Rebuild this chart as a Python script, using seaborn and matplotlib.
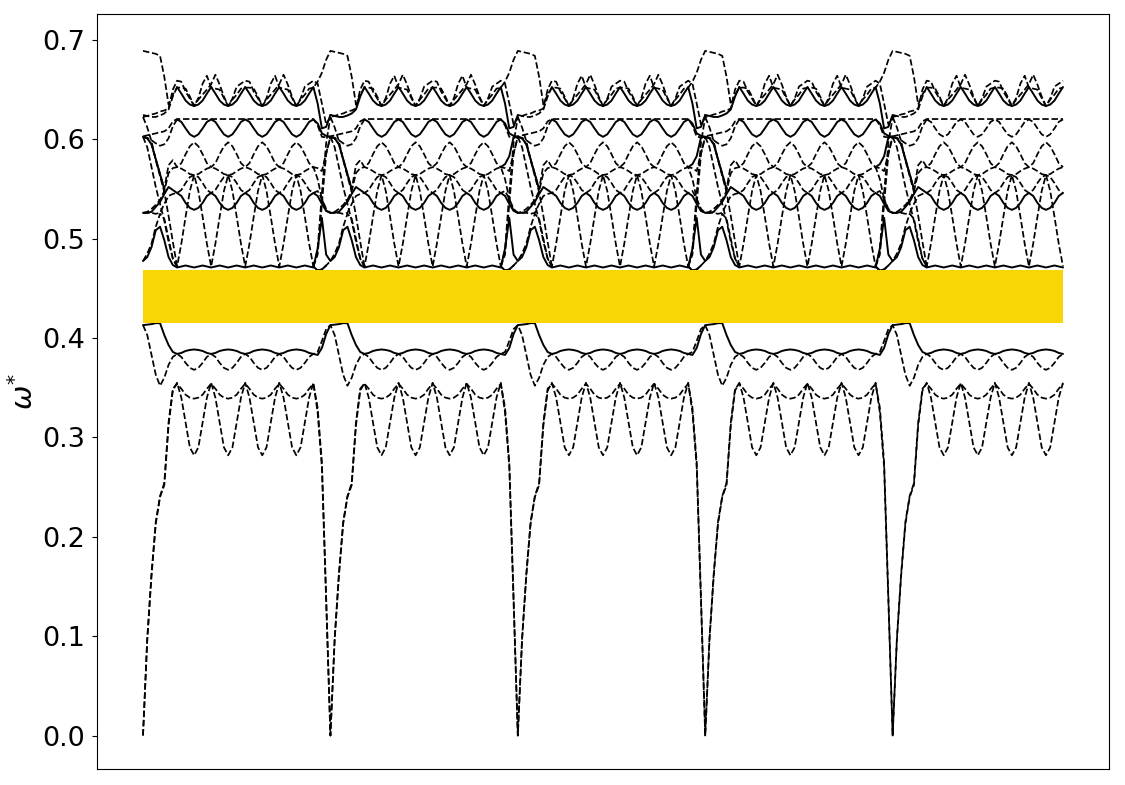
import numpy as np
import pandas as pd
import matplotlib
matplotlib.use('Agg')
import matplotlib.pyplot as plt
import seaborn as sns

acou_a_lead = [0, .096, .161, .213, .24, .252, .312, .347]
acou_a_cell = [.355, .34, .315, .29, .282, .29, .315, .34]
acou_a_tail = [.325, .27, .135]
acou_b_lead = [0, .098, .163, .215, .241, .254, .315, .349]
acou_b_cell = [.354, .349, .343, .34, .339, .34, .343, .349]
acou_b_tail = [.33, .275, .14]

low_s_lead = [.413, .4135, .414, .415, .415, .403, .393, .386]
low_s_cell = [.384, .385, .387, .388, .3885, .388, .387, .385]
low_s_tail = [.383, .39, .404]
low_d_lead = [.413, .403, .383, .363, .352, .36, .373, .381]
low_d_cell = [.384, .381, .375, .37, .368, .37, .375, .381]
low_d_tail = [.386, .397, .409]

wavy_lead = [.4775, .4815, .4915, .5085, .512, .4985, .4815, .4735]
wavy_cell = [.471, .472, .473, .472, .471, .472, .473, .472]
wavy_tail = [.49, .521, .484]
spike_a_lead = [.4775, .485, .495, .512, .525, .52, .5, .48]
spike_a_cell = [.472, .495, .522, .548, .564, .548, .522, .495]
spike_a_tail = [.468, .469, .473]
spike_b_lead = [.6225, .612, .598, .579, .563, .547, .523, .497]
spike_b_cell = [.472, .494, .52, .546, .563, .55, .524, .497]
spike_b_tail = [.489, .546, .596]
spike_c_lead = [.6025, .592, .572, .552, .535, .518, .497, .48]
spike_c_cell = [.472, .49, .518, .545, .56, .552, .526, .5]
spike_c_tail = [.484, .535, .585]

mid_h_lead = [.526, .526, .527, .532, .537, .545, .552, .549]
mid_h_cell = [.546, .543, .536, .531, .529, .531, .536, .543]
mid_h_tail = [.543, .535, .528]
mid_g_lead = [.526, .526, .526, .525, .526, .535, .543, .545]
mid_g_cell = [.546, .549, .556, .562, .564, .562, .556, .549]
mid_g_tail = [.548, .54, .53]
mid_f_lead = [.526, .527, .53, .534, .539, .548, .566, .571]
mid_f_cell = [.572, .5705, .568, .565, .564, .565, .568, .5705]
mid_f_tail = [.56, .54, .528]
mid_e_lead = [.6025, .601, .595, .58, .565, .55, .574, .579]
mid_e_cell = [.572, .576, .585, .593, .597, .593, .585, .576]
mid_e_tail = [.571, .568, .586]
hump_tail = [.575, .583, .602]

top_l_lead = [.6025, .6015, .599, .596, .5935, .595, .601, .613]
top_l_cell = [.62, .6175, .611, .605, .6025, .605, .611, .6175]
top_l_tail = [.616, .606, .6035]
top_k_lead = [.603, .604, .605, .606, .607, .608, .611, .618]
top_k_cell = [.6204, .6204, .6204, .6204, .6204, .6204, .6204, .6204]
top_k_tail = [.614, .6025, .602]
top_m_lead = [.6245, .6235, .6225, .6225, .624, .626, .63, .643]
top_m_cell = [.6526, .646, .639, .635, .6335, .635, .639, .646]
top_m_tail = [.636, .611, .6125]
top_n_lead = [.6225, .6235, .625, .626, .628, .629, .631, .65]
top_n_cell = [.659, .658, .648, .641, .6335, .6415, .656, .664, .652, .651, .65, .6415, .6335, .641, .653, .656]
top_n_tail = [.656, .636, .615]
top_o_lead = [.689, .688, .687, .686, .684, .663, .635, .645]
top_o_cell = [.652, .652, .651, .643, .6335, .64, .645, .65, .6555, .665, .655, .643, .6335, .64, .645, .651]
top_o_tail = [.658, .667, .68]

gap_low = 0.4155
gap_high = 0.468
yticks = [0.0, 0.1, 0.2, 0.3, 0.4, 0.5, 0.6, 0.7]

PERIOD = 44
N_SAMPLES = 217


def band(lead, cell, tail):
    repeat = lead + cell * (32 // len(cell)) + [cell[0]] + tail
    return np.array(repeat * 5)[:N_SAMPLES]


acou_a = band(acou_a_lead, acou_a_cell, acou_a_tail)
acou_b = band(acou_b_lead, acou_b_cell, acou_b_tail)
low_s = band(low_s_lead, low_s_cell, low_s_tail)
low_d = band(low_d_lead, low_d_cell, low_d_tail)
wavy = band(wavy_lead, wavy_cell, wavy_tail)
spike_a = band(spike_a_lead, spike_a_cell, spike_a_tail)
spike_b = band(spike_b_lead, spike_b_cell, spike_b_tail)
spike_c = band(spike_c_lead, spike_c_cell, spike_c_tail)
mid_h = band(mid_h_lead, mid_h_cell, mid_h_tail)
mid_g = band(mid_g_lead, mid_g_cell, mid_g_tail)
mid_f = band(mid_f_lead, mid_f_cell, mid_f_tail)
mid_e = band(mid_e_lead, mid_e_cell, mid_e_tail)
hump = band(mid_e_lead, mid_e_cell, hump_tail)
top_l = band(top_l_lead, top_l_cell, top_l_tail)
top_k = band(top_k_lead, top_k_cell, top_k_tail)
top_m = band(top_m_lead, top_m_cell, top_m_tail)
top_n = band(top_n_lead, top_n_cell, top_n_tail)
top_o = band(top_o_lead, top_o_cell, top_o_tail)

k = np.arange(N_SAMPLES)

sns.set_style('ticks', {'text.color': 'k', 'axes.labelcolor': 'k', 'axes.edgecolor': 'k',
                        'xtick.color': 'k', 'ytick.color': 'k', 'font.family': ['DejaVu Sans']})

fig = plt.figure(figsize=(11.25, 7.85), dpi=100)
ax = fig.add_axes([97 / 1125, 1 - 769 / 785, (1109 - 97) / 1125, (769 - 14) / 785])


def draw(y, start, stop, style):
    seg = pd.DataFrame({'k': k[start:stop], 'w': y[start:stop]})
    sns.lineplot(data=seg, x='k', y='w', color='k', linestyle=style,
                 linewidth=1.4 if style == '-' else 1.25,
                 estimator=None, sort=False, ax=ax)


# dashed over the whole path
for y in [acou_a, acou_b, low_d, mid_g, mid_f, top_k, top_n, top_o, spike_a, mid_e]:
    draw(y, 0, N_SAMPLES, '--')

# solid over the whole path
for y in [low_s, wavy, mid_h]:
    draw(y, 0, N_SAMPLES, '-')

# these change between solid and dashed along the path
for p in range(5):
    a = p * PERIOD
    b = min(a + PERIOD + 1, N_SAMPLES)
    draw(top_m, a, a + 9, '-' if p % 2 == 1 else '--')
    draw(top_m, a + 8, b, '-')
    draw(top_l, a, a + 9, '--')
    draw(top_l, a + 8, b, '-' if p < 4 else '--')
    draw(mid_e, a, a + 6, '-')
    # the extra falling bands only show apart from the spikes near the repeat edges
    draw(spike_b, a, a + 9, '--')
    draw(spike_c, a, a + 9, '--')
    if p < 4:
        draw(spike_a, a + 40, a + 44, '-')
        draw(spike_b, a + 40, a + 45, '--')
        draw(spike_c, a + 40, a + 45, '--')
    if 1 <= p < 4:
        draw(hump, a + 40, a + 45, '-')

ax.fill_between(k, gap_low, gap_high, color='#FAD505', linewidth=0, zorder=3)

ax.margins(x=0.05)
ax.set_ylim(-0.0337, 0.7261)
ax.set_xticks([])
ax.set_yticks(yticks)
ax.tick_params(axis='y', labelsize=19.5, length=3.5, width=0.8, pad=5)
ax.set_xlabel('')
ax.set_ylabel(r'$\omega^{*}$', fontsize=21, labelpad=2)

for side in ax.spines.values():
    side.set_visible(True)
    side.set_linewidth(0.8)

fig.savefig('out.png', dpi=100)
